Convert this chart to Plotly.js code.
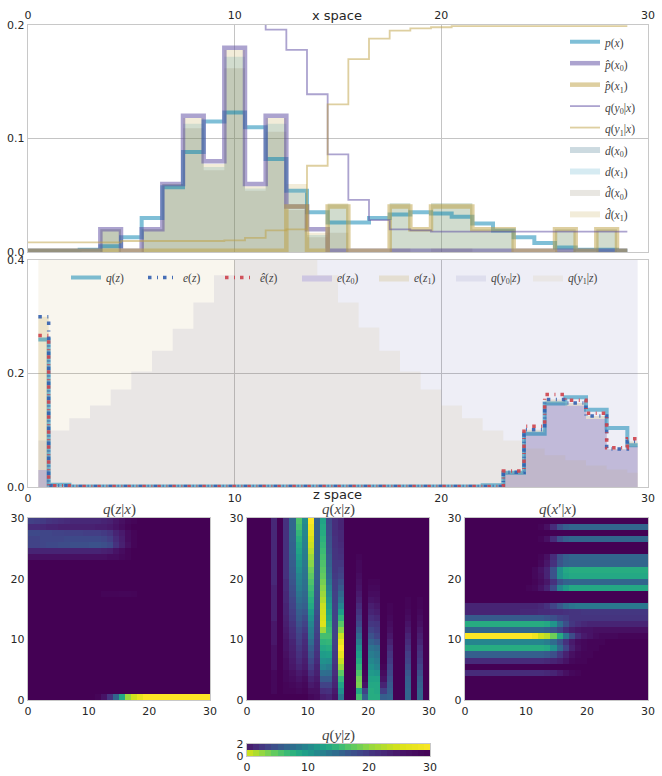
<!DOCTYPE html>
<html>
<head>
<meta charset="utf-8">
<script src="https://cdn.plot.ly/plotly-3.0.1.min.js"></script>
<style>html,body{margin:0;padding:0;background:#fff}</style>
</head>
<body>
<div id="chart1" style="width:662px;height:776px"></div>
<script>
// x space, one value per x bin 0..29
const xBins = [0,1,2,3,4,5,6,7,8,9,10,11,12,13,14,15,16,17,18,19,20,21,22,23,24,25,26,27,28,29]
const px   = [.001,.001,.001,.002,.005,.013,.03,.057,.088,.115,.123,.11,.082,.054,.035,.026,.026,.03,.033,.035,.034,.031,.025,.019,.013,.008,.004,.002,.002,.001]
const phat0 = [.001,.001,.001,.001,.02,.001,.02,.06,.12,.08,.18,.06,.12,.04,.02,.001,.001,.001,.001,.001,.001,.001,.001,.001,.001,.001,.001,.001,.001,.001]
const phat1 = [.001,.001,.001,.001,.001,.001,.001,.001,.001,.001,.001,.001,.001,.04,.001,.04,.001,.001,.04,.02,.04,.04,.02,.02,.001,.001,.02,.001,.02,.001]
const qy0x = [.2075,.2075,.2075,.2075,.2075,.206,.206,.206,.206,.206,.206,.2035,.196,.178,.139,.086,.046,.028,.02,.019,.018,.018,.018,.018,.018,.018,.018,.018,.018,.018]
const qy1x = [.0085,.0085,.0085,.0085,.0085,.0097,.0097,.0097,.0097,.0097,.0103,.0125,.019,.02,.076,.13,.17,.188,.195,.197,.198,.199,.199,.199,.199,.199,.199,.199,.199,.199]
const dx0  = [0,0,0,0,0,0,0,0,0,0,0,0,0,0,0,0,0,0,0,0,0,0,0,0,0,0,0,0,0,0]
const dx1  = [0,0,0,0,.02,0,.02,.06,.113,.075,.172,.056,.113,.052,.015,.042,0,0,.043,.02,.043,.043,.02,.02,0,0,.02,0,.02,0]
const dhat0 = [0,0,0,0,.02,0,.02,.06,.109,.072,.162,.054,.106,.037,.013,.017,0,0,.003,0,.003,.003,0,0,0,0,.001,0,.001,0]
const dhat1 = [0,0,0,0,.02,0,.02,.06,.118,.0775,.178,.058,.118,.06,.017,.043,0,0,.043,.02,.043,.043,.02,.02,0,0,.02,0,.02,0]

// z space, bins centred on k+.5
const zBins = [.5,1.5,2.5,3.5,4.5,5.5,6.5,7.5,8.5,9.5,10.5,11.5,12.5,13.5,14.5,15.5,16.5,17.5,18.5,19.5,20.5,21.5,22.5,23.5,24.5,25.5,26.5,27.5,28.5,29.5]
const qz   = [.26,.004,.001,.001,.001,.001,.001,.001,.001,.001,.001,.001,.001,.001,.001,.001,.001,.001,.001,.001,.001,.001,.003,.025,.094,.147,.158,.136,.104,.0735]
const ez   = [.3,.002,.001,.001,.001,.001,.001,.001,.001,.001,.001,.001,.001,.001,.001,.001,.001,.001,.001,.001,.001,.001,.001,.026,.101,.154,.148,.125,.067,.08]
const ehat = [.267,.002,.001,.001,.001,.001,.001,.001,.001,.001,.001,.001,.001,.001,.001,.001,.001,.001,.001,.001,.001,.001,.001,.028,.107,.163,.153,.13,.069,.085]
const ez0  = [.03,0,0,0,0,0,0,0,0,0,0,0,0,0,0,0,0,0,0,0,0,0,0,.024,.096,.148,.143,.12,.066,.072]
const ez1  = [.3,0,0,0,0,0,0,0,0,0,0,0,0,0,0,0,0,0,0,0,0,0,0,.026,.101,.154,.148,.125,.067,.08]
const qy0z = [.082,.0994,.121,.1435,.172,.2035,.24,.279,.325,.373,.43,.45,.46,.47,.47,.48,.48,.48,.48,.48,.48,.48,.48,.48,.48,.48,.48,.48,.48,.48]
const qy1z = [.48,.48,.48,.48,.48,.48,.48,.48,.48,.47,.47,.46,.45,.43,.373,.325,.281,.24,.2035,.172,.1435,.121,.0994,.082,.068,.056,.047,.038,.031,.025]

const heatAxis = [.5,1.5,2.5,3.5,4.5,5.5,6.5,7.5,8.5,9.5,10.5,11.5,12.5,13.5,14.5,15.5,16.5,17.5,18.5,19.5,20.5,21.5,22.5,23.5,24.5,25.5,26.5,27.5,28.5,29.5]
const zeros = [0,0,0,0,0,0,0,0,0,0,0,0,0,0,0,0,0,0,0,0,0,0,0,0,0,0,0,0,0,0]

// q(z|x): rows are z, bottom to top
const qzx = [
  [0,0,0,0,0,0,0,0,0,0,0,.01,.05,.15,.32,.6,.85,.93,.97,1,1,1,1,1,1,1,1,1,1,1],
  zeros,zeros,zeros,zeros,zeros,zeros,zeros,zeros,zeros,zeros,zeros,zeros,zeros,zeros,zeros,zeros,
  [0,0,0,0,0,0,0,0,0,0,0,0,.01,.01,.01,.015,.015,.01,0,0,0,0,0,0,0,0,0,0,0,0],
  zeros,zeros,zeros,zeros,zeros,
  [.04,.04,.04,.04,.04,.04,.04,.04,.04,.04,.04,.04,.04,.03,.03,.02,.01,0,0,0,0,0,0,0,0,0,0,0,0,0],
  [.1,.1,.1,.1,.1,.1,.1,.1,.1,.1,.1,.1,.09,.08,.05,.03,.01,0,0,0,0,0,0,0,0,0,0,0,0,0],
  [.2,.2,.21,.22,.22,.23,.23,.24,.24,.24,.25,.25,.24,.22,.14,.09,.04,.01,0,0,0,0,0,0,0,0,0,0,0,0],
  [.2,.2,.21,.21,.21,.21,.22,.22,.22,.22,.22,.22,.21,.18,.12,.08,.03,.01,0,0,0,0,0,0,0,0,0,0,0,0],
  [.22,.22,.21,.21,.2,.2,.19,.19,.19,.18,.18,.18,.17,.15,.1,.07,.03,.01,0,0,0,0,0,0,0,0,0,0,0,0],
  [.12,.12,.11,.1,.1,.09,.09,.09,.09,.09,.09,.08,.08,.07,.05,.03,.01,0,0,0,0,0,0,0,0,0,0,0,0,0],
  [.19,.18,.17,.15,.14,.13,.12,.11,.11,.11,.11,.11,.1,.09,.06,.04,.02,.01,0,0,0,0,0,0,0,0,0,0,0,0],
]

// q(x|z): listed by x column, each running z = 0..29
const qxzCol4  = [0,.02,.02,.02,.02,.04,.04,.04,.04,.06,.06,.06,.06,.09,.09,.09,.09,.09,.09,.11,.11,.11,.11,.11,.11,.11,.11,.11,.11,.11]
const qxzCol6  = [0,.01,.01,.02,.02,.03,.03,.04,.05,.05,.06,.07,.08,.09,.1,.1,.11,.11,.12,.12,.14,.14,.14,.14,.14,.14,.14,.14,.14,.14]
const qxzCol7  = [0,.01,.02,.03,.04,.06,.07,.08,.09,.1,.12,.13,.15,.17,.18,.2,.21,.23,.24,.26,.27,.28,.29,.3,.31,.31,.32,.32,.33,.33]
const qxzCol8  = [0,.02,.03,.05,.07,.1,.12,.14,.16,.18,.2,.22,.25,.28,.3,.33,.36,.39,.42,.44,.45,.49,.52,.55,.58,.6,.63,.66,.7,.72]
const qxzCol9  = [0,.01,.02,.03,.05,.07,.08,.1,.11,.12,.14,.17,.2,.23,.27,.3,.32,.34,.36,.37,.38,.39,.4,.41,.42,.43,.44,.45,.46,.48]
const qxzCol10 = [.02,.04,.07,.1,.14,.18,.22,.26,.3,.35,.4,.42,.45,.5,.55,.6,.63,.66,.69,.72,.75,.78,.82,.85,.89,.92,.94,.96,.98,1]
const qxzCol11 = [.03,.04,.05,.07,.09,.1,.12,.14,.16,.17,.18,.2,.21,.22,.24,.25,.26,.27,.28,.29,.3,.3,.3,.3,.3,.3,.3,.3,.3,.3]
const qxzCol12 = [.08,.13,.2,.28,.36,.45,.5,.55,.6,.65,.7,.85,.95,.94,.93,.92,.88,.85,.82,.79,.76,.74,.72,.7,.68,.66,.64,.62,.6,.58]
const qxzCol13 = [.1,.14,.2,.28,.35,.42,.49,.56,.62,.66,.7,.68,.65,.61,.58,.55,.51,.47,.43,.39,.35,.33,.31,.29,.27,.26,.25,.24,.23,.22]
const qxzCol14 = [.05,.07,.1,.11,.13,.14,.16,.17,.18,.19,.2,.2,.2,.2,.2,.2,.19,.19,.18,.18,.17,.16,.16,.15,.15,.14,.14,.13,.13,.13]
const qxzCol15 = [.4,.5,.58,.66,.75,.85,.92,.97,1,.97,.92,.82,.74,.65,.55,.45,.38,.33,.28,.24,.2,.18,.16,.14,.13,.12,.11,.11,.1,.1]
const qxzCol18 = [.7,.6,.8,.78,.72,.66,.61,.56,.5,.42,.35,.28,.22,.18,.15,.12,.09,.07,.05,.04,.03,.02,.02,.01,0,0,0,0,0,0]
const qxzCol19 = [.3,.2,.05,.02,.01,0,0,0,0,0,0,0,0,0,0,0,0,0,0,0,0,0,0,0,0,0,0,0,0,0]
const qxzCol20 = [.62,.62,.6,.58,.54,.5,.46,.42,.38,.31,.25,.2,.16,.13,.1,.08,.05,.03,.02,.01,0,0,0,0,0,0,0,0,0,0]
const qxzCol21 = [.62,.6,.6,.58,.52,.45,.42,.39,.35,.27,.2,.17,.15,.11,.08,.06,.04,.03,.02,.01,0,0,0,0,0,0,0,0,0,0]
const qxzCol22 = [.3,.18,.1,.05,.03,.01,0,0,0,0,0,0,0,0,0,0,0,0,0,0,0,0,0,0,0,0,0,0,0,0]
const qxzCol23 = [.32,.3,.28,.25,.22,.2,.17,.15,.12,.09,.06,.04,.03,.02,.01,.01,0,0,0,0,0,0,0,0,0,0,0,0,0,0]
const qxzCol26 = [.32,.32,.31,.3,.27,.23,.2,.18,.15,.12,.1,.07,.05,.03,.02,.01,.01,0,0,0,0,0,0,0,0,0,0,0,0,0]
const qxzCol28 = [.32,.32,.3,.28,.24,.2,.17,.15,.13,.1,.08,.06,.04,.03,.02,.01,.01,0,0,0,0,0,0,0,0,0,0,0,0,0]
const qxzCols = [zeros,zeros,zeros,zeros,qxzCol4,zeros,qxzCol6,qxzCol7,qxzCol8,qxzCol9,qxzCol10,qxzCol11,qxzCol12,qxzCol13,qxzCol14,qxzCol15,zeros,zeros,qxzCol18,qxzCol19,qxzCol20,qxzCol21,qxzCol22,qxzCol23,zeros,zeros,qxzCol26,zeros,qxzCol28,zeros]

// q(x'|x): rows are x', bottom to top
const qxx = [
  zeros,zeros,zeros,zeros,
  [.12,.12,.12,.12,.12,.12,.12,.12,.12,.12,.12,.12,.12,.11,.1,.07,.04,.02,.01,0,0,0,0,0,0,0,0,0,0,0],
  zeros,
  [.12,.12,.12,.12,.12,.12,.12,.12,.12,.12,.12,.12,.12,.11,.1,.08,.05,.02,.01,.01,0,0,0,0,0,0,0,0,0,0],
  [.3,.3,.3,.3,.3,.3,.3,.3,.3,.3,.3,.3,.3,.28,.24,.16,.09,.04,.02,.01,.01,0,0,0,0,0,0,0,0,0],
  [.62,.62,.62,.62,.62,.62,.62,.62,.62,.62,.62,.62,.62,.6,.5,.34,.2,.09,.04,.02,.01,.01,0,0,0,0,0,0,0,0],
  [.45,.45,.45,.45,.45,.45,.45,.45,.45,.45,.45,.45,.45,.42,.35,.25,.14,.07,.03,.02,.01,.01,.01,0,0,0,0,0,0,0],
  [1,1,1,1,1,1,1,1,1,1,1,.98,.93,.9,.78,.62,.4,.23,.12,.07,.05,.03,.02,.02,.02,.01,.01,.01,.01,.01],
  [.33,.33,.33,.33,.33,.33,.33,.33,.33,.33,.33,.33,.33,.3,.26,.2,.12,.08,.06,.05,.05,.04,.04,.04,.04,.04,.04,.04,.04,.04],
  [.62,.62,.62,.62,.62,.62,.62,.62,.62,.62,.62,.62,.62,.6,.52,.36,.24,.16,.13,.11,.1,.1,.1,.1,.1,.1,.1,.1,.1,.1],
  [.28,.28,.28,.28,.28,.28,.28,.28,.28,.28,.28,.28,.28,.26,.24,.2,.18,.15,.15,.15,.15,.15,.15,.15,.15,.15,.15,.15,.15,.15],
  [.1,.1,.1,.1,.1,.1,.1,.1,.1,.11,.11,.11,.12,.12,.13,.13,.14,.15,.15,.16,.16,.16,.16,.16,.16,.16,.16,.16,.16,.16],
  [.1,.1,.1,.1,.1,.1,.1,.1,.1,.1,.1,.1,.11,.14,.2,.27,.34,.38,.4,.4,.4,.4,.4,.4,.4,.4,.4,.4,.4,.4],
  zeros,zeros,
  [0,0,0,0,0,0,0,0,0,0,.01,.02,.05,.1,.22,.45,.55,.6,.6,.6,.6,.6,.6,.6,.6,.6,.6,.6,.6,.6],
  [0,0,0,0,0,0,0,0,0,0,0,.01,.03,.06,.14,.26,.31,.32,.32,.32,.32,.32,.32,.32,.32,.32,.32,.32,.32,.32],
  [0,0,0,0,0,0,0,0,0,0,0,.02,.04,.1,.25,.5,.58,.6,.6,.6,.6,.6,.6,.6,.6,.6,.6,.6,.6,.6],
  [0,0,0,0,0,0,0,0,0,0,0,.02,.05,.1,.25,.5,.6,.62,.62,.62,.62,.62,.62,.62,.62,.62,.62,.62,.62,.62],
  [0,0,0,0,0,0,0,0,0,0,0,0,.02,.06,.14,.26,.31,.32,.32,.32,.32,.32,.32,.32,.32,.32,.32,.32,.32,.32],
  [0,0,0,0,0,0,0,0,0,0,0,0,.01,.04,.12,.24,.3,.32,.32,.32,.32,.32,.32,.32,.32,.32,.32,.32,.32,.32],
  zeros,zeros,
  [0,0,0,0,0,0,0,0,0,0,0,0,.01,.04,.12,.24,.3,.32,.32,.32,.32,.32,.32,.32,.32,.32,.32,.32,.32,.32],
  zeros,
  [0,0,0,0,0,0,0,0,0,0,0,0,.01,.04,.12,.24,.3,.32,.32,.32,.32,.32,.32,.32,.32,.32,.32,.32,.32,.32],
  zeros,
]

// q(y|z): two rows
const qyz0 = [.92,.88,.84,.8,.76,.72,.68,.64,.6,.56,.52,.47,.43,.39,.35,.31,.27,.24,.21,.18,.15,.13,.11,.09,.07,.05,.04,.03,.02,.01]
const qyz1 = [.08,.12,.16,.2,.24,.28,.32,.36,.4,.44,.48,.53,.57,.61,.65,.69,.73,.76,.79,.82,.85,.87,.89,.91,.93,.95,.96,.97,.98,.99]

const W = 662, H = 776
const blue = 'rgba(0,128,176,0.5)', purple = 'rgba(90,72,160,0.5)', yellow = 'rgba(190,160,65,0.5)'

function fillTrace(x, y, color, name, xa, ya, lg, rank) {
    return {x: x, y: y, xaxis: xa, yaxis: ya, name: name, legend: lg, legendrank: rank,
        type: 'scatter', mode: 'lines', line: {shape: 'hvh', width: 0}, fill: 'tozeroy', fillcolor: color, hoverinfo: 'skip'}
}
function lineTrace(x, y, color, width, name, xa, ya, lg, rank, dash) {
    return {x: x, y: y, xaxis: xa, yaxis: ya, name: name, legend: lg, legendrank: rank,
        type: 'scatter', mode: 'lines', line: {shape: 'hvh', width: width, color: color, dash: dash || 'solid'}, hoverinfo: 'skip'}
}
function heat(z, xa, ya, transpose, y) {
    return {type: 'heatmap', z: z, x: heatAxis, y: y || heatAxis, xaxis: xa, yaxis: ya, transpose: !!transpose,
        colorscale: 'Viridis', zmin: 0, zmax: 1, showscale: false, showlegend: false, hoverinfo: 'skip'}
}
// legend rows get their height from the base legend font, the span keeps the text itself small
function small(s) { return '<span style="font-size:11.5px">' + s + '</span>' }

const legend1 = 'legend', legend2 = 'legend2'
const dashDot = '3.5px,5.5px,1px,5px'
const traces = [
    fillTrace(xBins, dx0, 'rgba(0,70,100,0.2)', small('<i>d</i>(<i>x</i><sub>0</sub>)'), 'x', 'y', legend1, 6),
    fillTrace(xBins, dx1, 'rgba(0,128,176,0.16)', small('<i>d</i>(<i>x</i><sub>1</sub>)'), 'x', 'y', legend1, 7),
    fillTrace(xBins, dhat0, 'rgba(100,85,55,0.15)', small('<i>d̂</i>(<i>x</i><sub>0</sub>)'), 'x', 'y', legend1, 8),
    fillTrace(xBins, dhat1, 'rgba(190,160,65,0.2)', small('<i>d̂</i>(<i>x</i><sub>1</sub>)'), 'x', 'y', legend1, 9),
    lineTrace(xBins, px, blue, 4, small('<i>p</i>(<i>x</i>)'), 'x', 'y', legend1, 1),
    lineTrace(xBins, phat0, purple, 4.5, small('<i>p̂</i>(<i>x</i><sub>0</sub>)'), 'x', 'y', legend1, 2),
    lineTrace(xBins, phat1, yellow, 4.5, small('<i>p̂</i>(<i>x</i><sub>1</sub>)'), 'x', 'y', legend1, 3),
    lineTrace(xBins, qy0x, purple, 1.8, small('<i>q</i>(<i>y</i><sub>0</sub>|<i>x</i>)'), 'x', 'y', legend1, 4),
    lineTrace(xBins, qy1x, yellow, 1.8, small('<i>q</i>(<i>y</i><sub>1</sub>|<i>x</i>)'), 'x', 'y', legend1, 5),

    fillTrace(zBins, ez1, 'rgba(190,160,65,0.2)', '<i>e</i>(<i>z</i><sub>1</sub>)', 'x2', 'y2', legend2, 15),
    fillTrace(zBins, ez0, 'rgba(200,192,225,0.85)', '<i>e</i>(<i>z</i><sub>0</sub>)', 'x2', 'y2', legend2, 14),
    fillTrace(zBins, qy0z, 'rgba(70,70,160,0.09)', '<i>q</i>(<i>y</i><sub>0</sub>|<i>z</i>)', 'x2', 'y2', legend2, 16),
    fillTrace(zBins, qy1z, 'rgba(190,160,65,0.09)', '<i>q</i>(<i>y</i><sub>1</sub>|<i>z</i>)', 'x2', 'y2', legend2, 17),
    lineTrace(zBins, qz, blue, 4, '<i>q</i>(<i>z</i>)', 'x2', 'y2', legend2, 11),
    lineTrace(zBins, ez, 'rgba(50,95,175,0.9)', 3.5, '<i>e</i>(<i>z</i>)', 'x2', 'y2', legend2, 12, dashDot),
    lineTrace(zBins, ehat, 'rgba(205,65,75,0.9)', 3.5, '<i>ê</i>(<i>z</i>)', 'x2', 'y2', legend2, 13, dashDot),

    heat(qzx, 'x3', 'y3'),
    heat(qxzCols, 'x4', 'y4', true),
    heat(qxx, 'x5', 'y5'),
    heat([qyz0, qyz1], 'x6', 'y6', false, [.5, 1.5]),
]

const tickFont = {family: 'DejaVu Sans, sans-serif', size: 11, color: '#262626'}
function axis(domain, range, tickvals, extra) {
    return Object.assign({domain: domain, range: range, tickvals: tickvals, tickfont: tickFont,
        ticks: '', showgrid: false, zeroline: false, showline: true, mirror: true,
        linecolor: '#c8c8c8', linewidth: 1.3, fixedrange: true}, extra || {})
}
function xdom(a, b) { return [a / W, b / W] }
function ydom(top, bottom) { return [1 - bottom / H, 1 - top / H] }

const gridded = {showgrid: true, gridcolor: '#c4c4c4', gridwidth: 1.1}
const xt = [0, 10, 20, 30]
const mathFont = {family: 'Liberation Serif, serif', size: 15, color: '#444'}
function label(text, xpx, ypx, font) {
    return {text: text, xref: 'paper', yref: 'paper', x: xpx / W, y: 1 - ypx / H, showarrow: false,
        xanchor: 'center', yanchor: 'middle', font: font || mathFont}
}
const spaceFont = {family: 'DejaVu Sans, sans-serif', size: 13, color: '#262626'}
const legendFont = {family: 'Liberation Serif, serif', size: 11.5, color: '#444'}

const layout = {
    width: W, height: H,
    margin: {l: 0, r: 0, t: 0, b: 0, autoexpand: false},
    paper_bgcolor: 'white', plot_bgcolor: 'white',
    xaxis: axis(xdom(28, 648), [0, 30], xt, Object.assign({anchor: 'y', side: 'top'}, gridded)),
    yaxis: axis(ydom(25, 252), [0, 0.2], [0, 0.1, 0.2], Object.assign({anchor: 'x', tickformat: '.1f'}, gridded)),
    xaxis2: axis(xdom(28, 648), [0, 30], xt, Object.assign({anchor: 'y2'}, gridded)),
    yaxis2: axis(ydom(260, 487), [0, 0.4], [0, 0.2, 0.4], Object.assign({anchor: 'x2', tickformat: '.1f'}, gridded)),
    xaxis3: axis(xdom(28, 210), [0, 30], xt, {anchor: 'y3'}),
    yaxis3: axis(ydom(518, 700), [0, 30], xt, {anchor: 'x3'}),
    xaxis4: axis(xdom(247, 429), [0, 30], xt, {anchor: 'y4'}),
    yaxis4: axis(ydom(518, 700), [0, 30], xt, {anchor: 'x4'}),
    xaxis5: axis(xdom(465, 648), [0, 30], xt, {anchor: 'y5'}),
    yaxis5: axis(ydom(518, 700), [0, 30], xt, {anchor: 'x5'}),
    xaxis6: axis(xdom(247, 430), [0, 30], xt, {anchor: 'y6'}),
    yaxis6: axis(ydom(744, 756), [0, 2], [0, 2], {anchor: 'x6'}),
    legend: {x: 565 / W, y: 1 - 26 / H, xanchor: 'left', yanchor: 'top', bgcolor: 'rgba(0,0,0,0)',
        font: Object.assign({}, legendFont, {size: 14.2}), traceorder: 'normal', itemwidth: 30},
    legend2: {x: 66 / W, y: 1 - 263 / H, xanchor: 'left', yanchor: 'top', orientation: 'h', bgcolor: 'rgba(0,0,0,0)',
        font: legendFont, traceorder: 'normal', itemwidth: 30, entrywidth: 32, entrywidthmode: 'pixels'},
    annotations: [
        label('x space', 337, 15, spaceFont),
        label('z space', 337, 495, spaceFont),
        label('<i>q</i>(<i>z</i>|<i>x</i>)', 119, 509),
        label('<i>q</i>(<i>x</i>|<i>z</i>)', 338, 509),
        label('<i>q</i>(<i>x</i>′|<i>x</i>)', 557, 509),
        label('<i>q</i>(<i>y</i>|<i>z</i>)', 338, 735),
    ],
}

Plotly.newPlot('chart1', traces, layout, {displayModeBar: false, staticPlot: true})
</script>
</body>
</html>
